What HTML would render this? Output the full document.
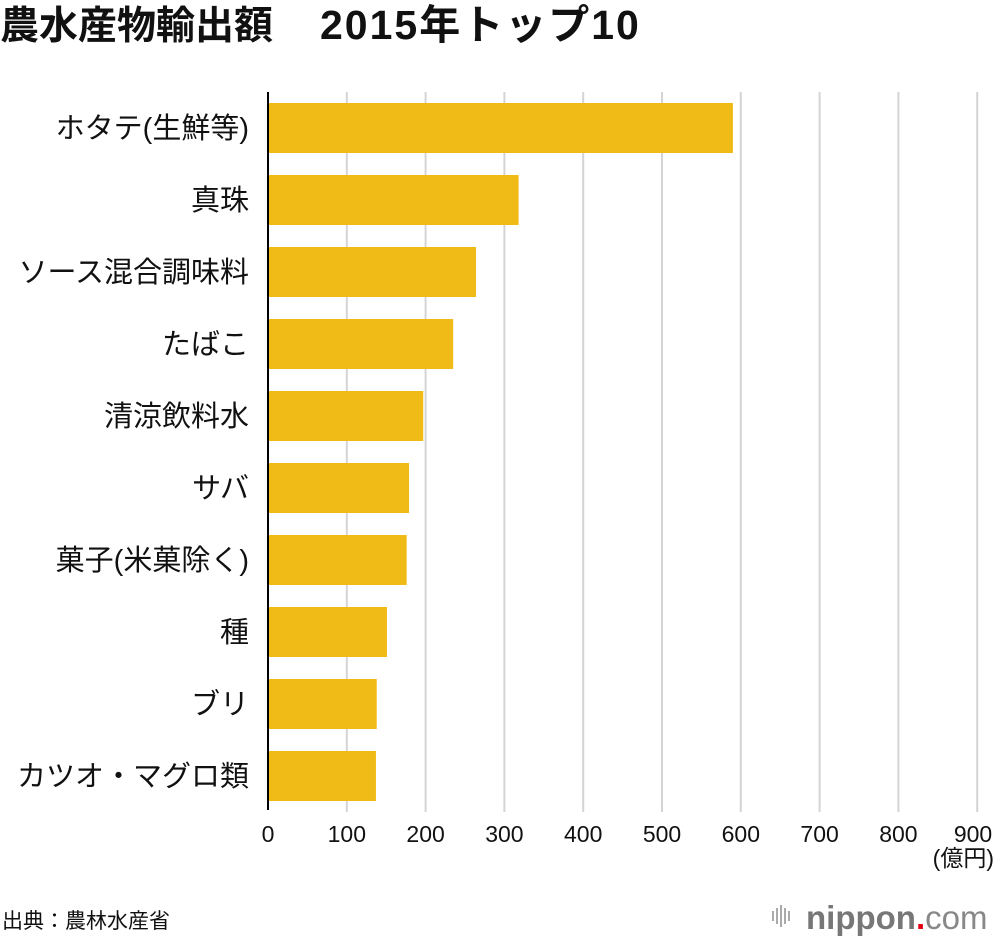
<!DOCTYPE html>
<html><head><meta charset="utf-8">
<style>
body{margin:0;background:#fff;}
svg{display:block;font-family:"Liberation Sans","Noto Sans CJK JP",sans-serif;}
</style></head>
<body>
<svg id="chart" width="1000" height="942" viewBox="0 0 1000 942">
<text x="0" y="39" font-size="39" font-weight="bold" fill="#111">農水産物輸出額<tspan x="320" font-size="41" letter-spacing="2">2015年トップ10</tspan></text>
<g id="grid"></g>
<g id="bars"></g>
<g id="labels"></g>
<g id="ticks"></g>
<line x1="268" y1="92" x2="268" y2="810" stroke="#000" stroke-width="2"/>
<text x="994" y="866" font-size="23" text-anchor="end" fill="#111">(億円)</text>
<text x="2" y="928" font-size="21" fill="#111">出典：農林水産省</text>
<g>
<g fill="#aaa"><rect x="772" y="911" width="2" height="10"/><rect x="776" y="908" width="2" height="16"/><rect x="780" y="905" width="2" height="22"/><rect x="784" y="908" width="2" height="16"/><rect x="788" y="911" width="2" height="10"/></g>
<text x="806" y="929" font-size="33" font-weight="bold" fill="#777">nippon<tspan fill="#e50012">.</tspan><tspan font-weight="normal" fill="#888">com</tspan></text>
</g>
</svg>
<script>
const categories=["ホタテ(生鮮等)","真珠","ソース混合調味料","たばこ","清涼飲料水","サバ","菓子(米菓除く)","種","ブリ","カツオ・マグロ類"];
const values=[590,318,264,235,197,179,176,151,138,137];
const tickValues=[0,100,200,300,400,500,600,700,800,900];
const NS="http://www.w3.org/2000/svg";
const x0=268,pxPer=0.788;
function xs(v){return x0+v*pxPer;}
function yc(i){return 128+i*72;}
const grid=document.getElementById('grid'),bars=document.getElementById('bars'),labels=document.getElementById('labels'),ticks=document.getElementById('ticks');
tickValues.forEach(t=>{
  if(t>0){
    const l=document.createElementNS(NS,'line');
    l.setAttribute('x1',xs(t));l.setAttribute('x2',xs(t));l.setAttribute('y1',92);l.setAttribute('y2',812);
    l.setAttribute('stroke','#d4d4d4');l.setAttribute('stroke-width','2');
    
    
    grid.appendChild(l);
  }
  const tx=document.createElementNS(NS,'text');
  tx.setAttribute('x',t===900?xs(t)+15:xs(t));tx.setAttribute('y',842);
  tx.setAttribute('font-size','23');tx.setAttribute('text-anchor',t===900?'end':'middle');tx.setAttribute('fill','#111');
  tx.textContent=t;
  
  
  ticks.appendChild(tx);
});
categories.forEach((c,i)=>{
  const r=document.createElementNS(NS,'rect');
  r.setAttribute('x',x0+1);r.setAttribute('y',yc(i)-25);
  r.setAttribute('width',xs(values[i])-x0-1);r.setAttribute('height',50);
  r.setAttribute('fill','#f0bb16');
  
  
  bars.appendChild(r);
  const t=document.createElementNS(NS,'text');
  t.setAttribute('x',249);t.setAttribute('y',yc(i)+10);
  t.setAttribute('font-size','29');t.setAttribute('text-anchor','end');t.setAttribute('fill','#111');
  t.textContent=c;
  
  
  labels.appendChild(t);
});
</script>
</body></html>
